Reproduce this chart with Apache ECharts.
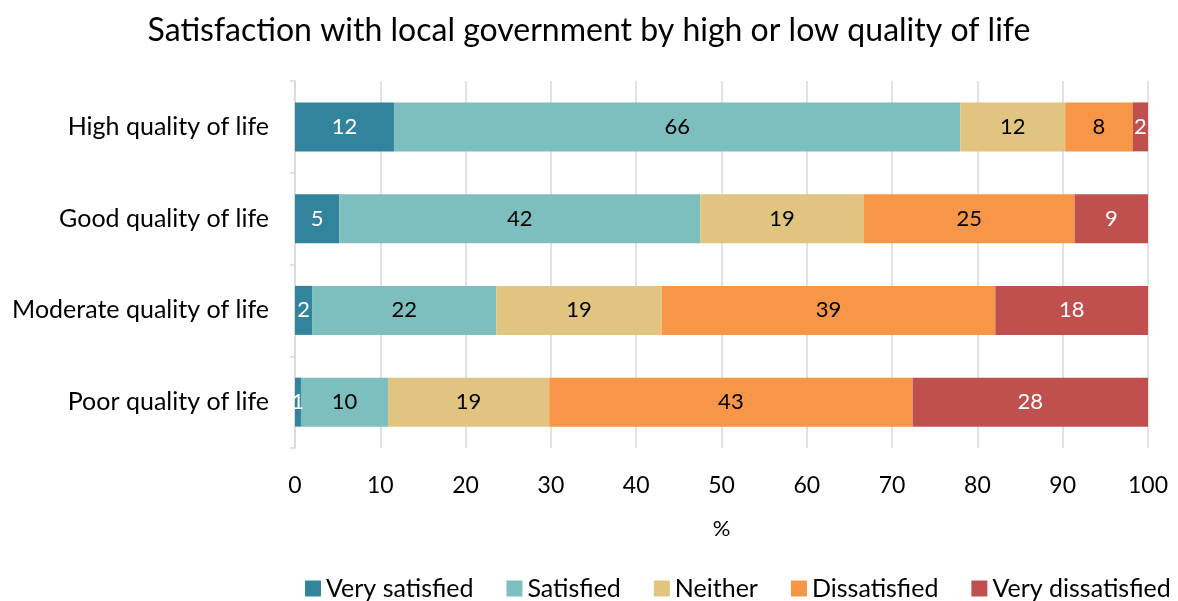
<!DOCTYPE html>
<html>
<head>
<meta charset="utf-8">
<script src="https://cdn.jsdelivr.net/npm/echarts@6/dist/echarts.min.js"></script>
<style>html,body{margin:0;padding:0;background:#fff}#c{width:1178px;height:601px}</style>
</head>
<body>
<div id="c"></div>
<script>
const categories = ['High quality of life', 'Good quality of life', 'Moderate quality of life', 'Poor quality of life'];
const seriesNames = ['Very satisfied', 'Satisfied', 'Neither', 'Dissatisfied', 'Very dissatisfied'];
const verySatisfied = [11.6, 5.2, 2.0, 0.7];
const satisfied = [66.4, 42.3, 21.6, 10.2];
const neither = [12.3, 19.2, 19.4, 18.9];
const dissatisfied = [7.9, 24.7, 39.1, 42.6];
const veryDissatisfied = [1.8, 8.6, 17.9, 27.6];
const xTicks = [0, 10, 20, 30, 40, 50, 60, 70, 80, 90, 100];

const colors = ['#31849B', '#7DBFBF', '#E0C47F', '#F79646', '#C0504D'];
const labelColors = ['#ffffff', '#000000', '#000000', '#000000', '#ffffff'];
const values = [verySatisfied, satisfied, neither, dissatisfied, veryDissatisfied];
const FONT = 'Lato';

const chart = echarts.init(document.getElementById('c'));
chart.setOption({
  animation: false,
  textStyle: { fontFamily: FONT },
  title: {
    text: 'Satisfaction with local government by high or low quality of life',
    left: 'center', top: 10,
    textStyle: { fontFamily: FONT, fontSize: 32, fontWeight: 'normal', color: '#000' }
  },
  grid: { left: 295, right: 30, top: 81, bottom: 153, containLabel: false },
  xAxis: {
    type: 'value', min: 0, max: 100, interval: 10,
    name: '%', nameLocation: 'middle', nameGap: 70,
    nameTextStyle: { fontFamily: FONT, fontSize: 22, color: '#000' },
    axisLine: { show: false },
    axisTick: { show: false },
    axisLabel: { margin: 26, fontSize: 23, color: '#000', fontFamily: FONT,
      formatter: v => xTicks.indexOf(v) >= 0 ? String(v) : '' },
    splitLine: { show: true, lineStyle: { color: '#d9d9d9', width: 1.5 } }
  },
  yAxis: {
    type: 'category', data: categories, inverse: true,
    axisLine: { show: true, lineStyle: { color: '#d9d9d9', width: 1.5 } },
    axisTick: { show: true, length: 5, lineStyle: { color: '#d9d9d9', width: 1.5 } },
    axisLabel: { margin: 26, fontSize: 25, color: '#000', fontFamily: FONT }
  },
  legend: {
    bottom: -5, left: 300, itemWidth: 16, itemHeight: 16, itemGap: 33,
    icon: 'rect',
    textStyle: { fontFamily: FONT, fontSize: 25, color: '#000' },
    data: seriesNames
  },
  series: seriesNames.map((name, i) => ({
    name, type: 'bar', stack: 'total', barWidth: 49,
    data: values[i],
    itemStyle: { color: colors[i] },
    label: {
      show: true, position: 'inside', color: labelColors[i],
      fontFamily: FONT, fontSize: 22,
      formatter: p => String(Math.round(p.value))
    }
  }))
});
</script>
</body>
</html>
